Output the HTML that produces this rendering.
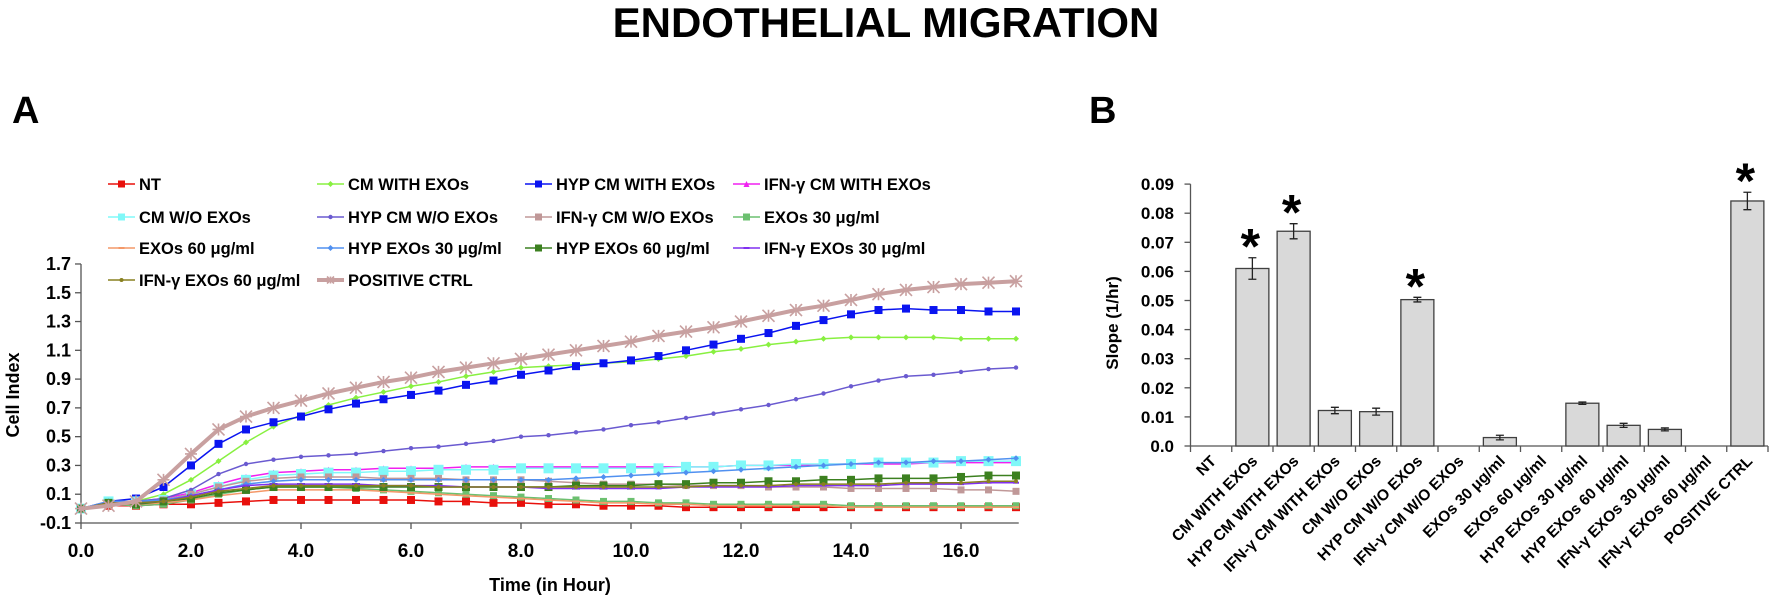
<!DOCTYPE html>
<html><head><meta charset="utf-8"><style>
html,body{margin:0;padding:0;background:#fff;}
svg{display:block;font-family:"Liberation Sans",sans-serif;font-weight:bold;}
</style></head><body>
<svg id="chart" width="1772" height="599" viewBox="0 0 1772 599" xmlns="http://www.w3.org/2000/svg">
<text x="886" y="37" text-anchor="middle" font-size="42">ENDOTHELIAL MIGRATION</text>
<text x="12" y="123" font-size="38">A</text>
<text x="1089" y="123" font-size="38">B</text>
<g id="lineChart"></g>
<g id="barChart"></g>
</svg>
<script>
const times = [];
const seriesNames = ["NT","CM WITH EXOs","HYP CM WITH EXOs","IFN-γ CM WITH EXOs","CM W/O EXOs","HYP CM W/O EXOs","IFN-γ CM W/O EXOs","EXOs 30 μg/ml","EXOs 60 μg/ml","HYP EXOs 30 μg/ml","HYP EXOs 60 μg/ml","IFN-γ EXOs 30 μg/ml","IFN-γ EXOs 60 μg/ml","POSITIVE CTRL"];
const timeStep = 0.5;
const ntVals = [0,0.02,0.02,0.03,0.03,0.04,0.05,0.06,0.06,0.06,0.06,0.06,0.06,0.05,0.05,0.04,0.04,0.03,0.03,0.02,0.02,0.02,0.01,0.01,0.01,0.01,0.01,0.01,0.01,0.01,0.01,0.01,0.01,0.01,0.01];
const cmWithVals = [0,0.04,0.05,0.1,0.2,0.33,0.46,0.57,0.65,0.72,0.77,0.81,0.85,0.88,0.92,0.95,0.98,0.99,1.0,1.01,1.02,1.04,1.06,1.09,1.11,1.14,1.16,1.18,1.19,1.19,1.19,1.19,1.18,1.18,1.18];
const hypCmWithVals = [0,0.05,0.07,0.15,0.3,0.45,0.55,0.6,0.64,0.69,0.73,0.76,0.79,0.82,0.86,0.89,0.93,0.96,0.99,1.01,1.03,1.06,1.1,1.14,1.18,1.22,1.27,1.31,1.35,1.38,1.39,1.38,1.38,1.37,1.37];
const ifnCmWithVals = [0,0.05,0.05,0.07,0.11,0.17,0.22,0.25,0.26,0.27,0.27,0.28,0.28,0.28,0.29,0.29,0.29,0.29,0.29,0.29,0.29,0.29,0.29,0.29,0.3,0.3,0.3,0.31,0.31,0.31,0.31,0.32,0.32,0.32,0.32];
const cmWoVals = [0,0.05,0.05,0.06,0.1,0.15,0.2,0.23,0.24,0.25,0.25,0.26,0.26,0.27,0.27,0.27,0.28,0.28,0.28,0.28,0.28,0.28,0.29,0.29,0.3,0.3,0.31,0.31,0.31,0.32,0.32,0.32,0.33,0.33,0.33];
const hypCmWoVals = [0,0.04,0.05,0.07,0.13,0.24,0.31,0.34,0.36,0.37,0.38,0.4,0.42,0.43,0.45,0.47,0.5,0.51,0.53,0.55,0.58,0.6,0.63,0.66,0.69,0.72,0.76,0.8,0.85,0.89,0.92,0.93,0.95,0.97,0.98];
const ifnCmWoVals = [0,0.04,0.04,0.06,0.1,0.15,0.19,0.21,0.22,0.22,0.22,0.21,0.21,0.21,0.2,0.2,0.2,0.19,0.18,0.17,0.17,0.17,0.16,0.16,0.16,0.15,0.15,0.15,0.14,0.14,0.14,0.14,0.13,0.13,0.12];
const exo30Vals = [0,0.03,0.02,0.03,0.06,0.1,0.13,0.15,0.15,0.15,0.14,0.13,0.12,0.11,0.1,0.09,0.08,0.07,0.06,0.05,0.05,0.04,0.04,0.03,0.03,0.03,0.03,0.03,0.02,0.02,0.02,0.02,0.02,0.02,0.02];
const exo60Vals = [0,0.03,0.03,0.04,0.06,0.09,0.11,0.13,0.13,0.13,0.13,0.12,0.11,0.1,0.09,0.08,0.07,0.06,0.05,0.04,0.04,0.03,0.03,0.02,0.02,0.02,0.02,0.02,0.01,0.01,0.01,0.01,0.01,0.01,0.01];
const hyp30Vals = [0,0.05,0.05,0.06,0.09,0.13,0.17,0.19,0.2,0.2,0.2,0.2,0.2,0.2,0.2,0.2,0.2,0.2,0.21,0.22,0.23,0.24,0.25,0.26,0.27,0.28,0.29,0.3,0.31,0.32,0.32,0.33,0.33,0.34,0.35];
const hyp60Vals = [0,0.04,0.03,0.05,0.07,0.11,0.13,0.15,0.15,0.15,0.15,0.15,0.15,0.15,0.15,0.15,0.15,0.15,0.16,0.16,0.16,0.17,0.17,0.18,0.18,0.19,0.19,0.2,0.2,0.21,0.21,0.21,0.22,0.23,0.23];
const ifn30Vals = [0,0.04,0.04,0.05,0.09,0.13,0.16,0.17,0.17,0.17,0.17,0.16,0.16,0.16,0.15,0.15,0.15,0.14,0.14,0.14,0.14,0.14,0.15,0.15,0.15,0.15,0.16,0.16,0.16,0.16,0.17,0.17,0.17,0.18,0.18];
const ifn60Vals = [0,0.04,0.04,0.05,0.08,0.12,0.14,0.16,0.16,0.16,0.16,0.16,0.16,0.15,0.15,0.15,0.15,0.15,0.15,0.15,0.15,0.15,0.15,0.16,0.16,0.16,0.17,0.17,0.17,0.17,0.18,0.18,0.18,0.19,0.19];
const posVals = [0,0.02,0.05,0.2,0.38,0.55,0.64,0.7,0.75,0.8,0.84,0.88,0.91,0.95,0.98,1.01,1.04,1.07,1.1,1.13,1.16,1.2,1.23,1.26,1.3,1.34,1.38,1.41,1.45,1.49,1.52,1.54,1.56,1.57,1.58];
const yTickLabelsA = ["-0.1","0.1","0.3","0.5","0.7","0.9","1.1","1.3","1.5","1.7"];
const xTickLabelsA = ["0.0","2.0","4.0","6.0","8.0","10.0","12.0","14.0","16.0"];

const barCategories = ["NT","CM WITH EXOs","HYP CM WITH EXOs","IFN-γ CM WITH EXOs","CM W/O EXOs","HYP CM W/O EXOs","IFN-γ CM W/O EXOs","EXOs 30 μg/ml","EXOs 60 μg/ml","HYP EXOs 30 μg/ml","HYP EXOs 60 μg/ml","IFN-γ EXOs 30 μg/ml","IFN-γ EXOs 60 μg/ml","POSITIVE CTRL"];
const barValues = [0,0.061,0.0738,0.0122,0.0118,0.0503,0,0.0029,0,0.0147,0.0071,0.0057,0,0.0842];
const barErrors = [0,0.0037,0.0026,0.0011,0.0012,0.0008,0,0.0008,0,0.0004,0.0007,0.0005,0,0.003];
const barSignificant = [false,true,true,false,false,true,false,false,false,false,false,false,false,true];
const yTickLabelsB = ["0.0","0.01","0.02","0.03","0.04","0.05","0.06","0.07","0.08","0.09"];

const NS = "http://www.w3.org/2000/svg";
function mk(tag, attrs, parent){const e=document.createElementNS(NS,tag);for(const k in attrs)e.setAttribute(k,attrs[k]);parent.appendChild(e);return e;}

// ---------- Line chart ----------
const LA = document.getElementById('lineChart');
const xA = t => 81 + t*55;
const yA = v => 523 - (v+0.1)*143.9;
const seriesData = [ntVals,cmWithVals,hypCmWithVals,ifnCmWithVals,cmWoVals,hypCmWoVals,ifnCmWoVals,exo30Vals,exo60Vals,hyp30Vals,hyp60Vals,ifn30Vals,ifn60Vals,posVals];
const styles = [
 {c:"#e8100c",m:"square",s:4,w:1.5},
 {c:"#88f040",m:"diamond",s:3,w:1.5},
 {c:"#0a14f0",m:"square",s:4,w:1.5},
 {c:"#f020f0",m:"tri",s:3,w:1.5},
 {c:"#80f8f8",m:"square",s:5,w:1.5},
 {c:"#6a5ad0",m:"circle",s:2.2,w:1.5},
 {c:"#c09898",m:"square",s:3.5,w:1.5},
 {c:"#6cc070",m:"square",s:3.5,w:1.5},
 {c:"#f49868",m:"dash",s:3,w:1.5},
 {c:"#5090f0",m:"diamond",s:3,w:1.5},
 {c:"#3c8020",m:"square",s:4,w:1.5},
 {c:"#8030f0",m:"dash",s:3,w:1.5},
 {c:"#888020",m:"circle",s:2,w:1.5},
 {c:"#c8a0a0",m:"star",s:6,w:4}
];
function marker(g, x, y, st){
  const s=st.s;
  if(st.m==="square") mk('rect',{x:x-s,y:y-s,width:2*s,height:2*s,fill:st.c},g);
  else if(st.m==="diamond") mk('polygon',{points:`${x},${y-s} ${x+s},${y} ${x},${y+s} ${x-s},${y}`,fill:st.c},g);
  else if(st.m==="tri") mk('polygon',{points:`${x},${y-s} ${x+s},${y+s} ${x-s},${y+s}`,fill:st.c},g);
  else if(st.m==="circle") mk('circle',{cx:x,cy:y,r:s,fill:st.c},g);
  else if(st.m==="dash") mk('rect',{x:x-s,y:y-1,width:2*s,height:2,fill:st.c},g);
  else if(st.m==="star"){ mk('path',{d:`M${x-s},${y-s}L${x+s},${y+s}M${x-s},${y+s}L${x+s},${y-s}M${x},${y-s}L${x},${y+s}M${x-s},${y}L${x+s},${y}`,stroke:st.c,'stroke-width':1.6,fill:'none'},g);}
}
// axes
const axA = mk('g',{},LA);


mk('line',{x1:81,y1:yA(1.7),x2:81,y2:yA(-0.1),stroke:'#555','stroke-width':1.3},axA);
yTickLabelsA.forEach(l=>{const v=parseFloat(l),y=yA(v);
  mk('line',{x1:75,y1:y,x2:81,y2:y,stroke:'#555','stroke-width':1.3},axA);
  const t=mk('text',{x:71,y:y+6,'text-anchor':'end','font-size':18},axA);t.textContent=l;
  
  
});
const axX = mk('g',{},LA);


mk('line',{x1:81,y1:523,x2:xA(17.05),y2:523,stroke:'#555','stroke-width':1.3},axX);
xTickLabelsA.forEach(l=>{const v=parseFloat(l),x=xA(v);
  mk('line',{x1:x,y1:523,x2:x,y2:529,stroke:'#555','stroke-width':1.3},axX);
  const t=mk('text',{x:x,y:557,'text-anchor':'middle','font-size':19},axX);t.textContent=l;
  
  
});
const yt=mk('text',{x:0,y:0,'text-anchor':'middle','font-size':18,transform:'translate(19,395) rotate(-90)'},LA);yt.textContent='Cell Index';


const xt=mk('text',{x:550,y:591,'text-anchor':'middle','font-size':18},LA);xt.textContent='Time (in Hour)';


// series
seriesData.forEach((vals,si)=>{
  const st=styles[si];
  const g=mk('g',{},LA);
  
  
  const pts=vals.map((v,i)=>xA(i*timeStep).toFixed(1)+','+yA(v).toFixed(1)).join(' ');
  mk('polyline',{points:pts,fill:'none',stroke:st.c,'stroke-width':st.w,'stroke-linejoin':'round'},g);
  vals.forEach((v,i)=>marker(g,xA(i*timeStep),yA(v),st));
});
// legend
const legCols=[108,317,525,733], legRows=[184,217,248,280];
seriesNames.forEach((n,i)=>{
  const col=i%4,row=Math.floor(i/4),x=legCols[col],y=legRows[row],st=styles[i];
  const g=mk('g',{},LA);
  
  
  mk('line',{x1:x,y1:y,x2:x+27,y2:y,stroke:st.c,'stroke-width':st.w},g);
  marker(g,x+13.5,y,{c:st.c,m:st.m,s:Math.min(st.s,3.5)});
  const t=mk('text',{x:x+31,y:y+6,'font-size':16.5},g);t.textContent=n;
});

// ---------- Bar chart ----------
const BB=document.getElementById('barChart');
const x0B=1190.5, pitch=41.25;
const yB=v=>446 - v*2910;
const axB=mk('g',{},BB);


mk('line',{x1:x0B,y1:yB(0.09),x2:x0B,y2:yB(0),stroke:'#555','stroke-width':1.3},axB);
yTickLabelsB.forEach(l=>{const v=parseFloat(l),y=yB(v);
  mk('line',{x1:x0B-6,y1:y,x2:x0B,y2:y,stroke:'#555','stroke-width':1.3},axB);
  const t=mk('text',{x:1174,y:y+6,'text-anchor':'end','font-size':17},axB);t.textContent=l;
  
  
});
const bxa=mk('g',{},BB);


mk('line',{x1:x0B,y1:446,x2:x0B+pitch*barCategories.length,y2:446,stroke:'#555','stroke-width':1.3},bxa);
for(let k=0;k<=barCategories.length;k++){const x=x0B+k*pitch;mk('line',{x1:x,y1:446,x2:x,y2:452,stroke:'#555','stroke-width':1.3},bxa);}
const ybt=mk('text',{x:0,y:0,'text-anchor':'middle','font-size':17,transform:'translate(1118,323) rotate(-90)'},BB);ybt.textContent='Slope (1/hr)';


barCategories.forEach((c,i)=>{
  const cx=x0B+(i+0.5)*pitch, v=barValues[i], e=barErrors[i];
  const g=mk('g',{},BB);
  
  
  if(v>0){
    mk('rect',{x:cx-16.5,y:yB(v),width:33,height:446-yB(v),fill:'#d9d9d9',stroke:'#404040','stroke-width':1.3},g);
    if(e>0){
      mk('path',{d:`M${cx},${yB(v+e)}L${cx},${yB(v-e)}M${cx-4},${yB(v+e)}L${cx+4},${yB(v+e)}M${cx-4},${yB(v-e)}L${cx+4},${yB(v-e)}`,stroke:'#222','stroke-width':1.3,fill:'none'},g);
    }
  }
  if(barSignificant[i]){
    const s=mk('text',{x:cx-2,y:yB(v+e)-18+24,'text-anchor':'middle','font-size':50},g);s.textContent='*';
    
    
  }
  const t=mk('text',{x:0,y:0,'text-anchor':'end','font-size':15.5,transform:`translate(${cx+6},${462}) rotate(-45)`},g);t.textContent=c;
  
  
});
</script>
</body></html>
